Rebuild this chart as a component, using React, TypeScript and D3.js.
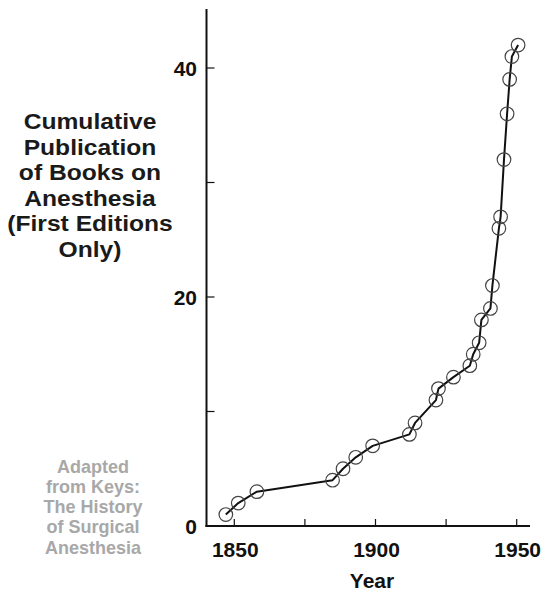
import React from "react";
import * as d3 from "d3";

const years = [1847, 1851.4, 1858, 1884.8, 1888.5, 1893, 1899, 1912, 1914, 1921.4, 1922.3, 1927.6, 1933.4, 1934.6, 1936.7, 1937.5, 1940.7, 1941.4, 1943.7, 1944.3, 1945.5, 1946.6, 1947.5, 1948.3, 1950.5];
const books = [1, 2, 3, 4, 5, 6, 7, 8, 9, 11, 12, 13, 14, 15, 16, 18, 19, 21, 26, 27, 32, 36, 39, 41, 42];

const xTicks = [1850, 1875, 1900, 1925, 1950];
const xTickLabels = [1850, 1900, 1950];
const yTicks = [0, 10, 20, 30, 40];
const yTickLabels = [0, 20, 40];

const titleLines = ["Cumulative", "Publication", "of Books on", "Anesthesia", "(First Editions", "Only)"];
const sourceLines = ["Adapted", "from Keys:", "The History", "of Surgical", "Anesthesia"];

export default function App() {
  const W = 546, H = 592;
  const x = d3.scaleLinear().domain([1850, 1950]).range([234.3, 516.7]);
  const y = d3.scaleLinear().domain([0, 40]).range([526, 68]);
  const axisX = 206.5;
  const pts = years.map((yr, i) => [x(yr), y(books[i])] as [number, number]);
  const line = d3.line()(pts) || "";
  const font = "'Liberation Sans', Arial, Helvetica, sans-serif";

  return (
    <svg width={W} height={H} style={{ position: "absolute", left: 0, top: 0, background: "#fff" }} fontFamily={font}>
      {/* axes */}
      <line x1={axisX} x2={axisX} y1={9} y2={y(0) + 1} stroke="#111" strokeWidth={2} />
      <line x1={axisX - 1} x2={530} y1={y(0)} y2={y(0)} stroke="#111" strokeWidth={2} />
      {yTicks.map((t) => (
        <line key={"yt" + t} x1={axisX} x2={axisX + 8} y1={y(t)} y2={y(t)} stroke="#111" strokeWidth={1.2} />
      ))}
      {xTicks.map((t) => (
        <line key={"xt" + t} x1={x(t)} x2={x(t)} y1={y(0)} y2={y(0) - 7} stroke="#111" strokeWidth={1.2} />
      ))}
      {yTickLabels.map((t) => (
        <text key={"yl" + t} x={197} y={y(t)} dy="0.36em" textAnchor="end" fontSize={21} fontWeight="bold" fill="#111">
          {t}
        </text>
      ))}
      {xTickLabels.map((t) => (
        <text key={"xl" + t} x={x(t) + 1} y={557} textAnchor="middle" fontSize={21} fontWeight="bold" fill="#111">
          {t}
        </text>
      ))}
      <text x={372} y={588} textAnchor="middle" fontSize={21} fontWeight="bold" fill="#111">
        Year
      </text>
      {/* title */}
      {titleLines.map((s, i) => (
        <text key={"t" + i} transform={`translate(90, ${129 + i * 25.6}) scale(1.12, 1)`} textAnchor="middle" fontSize={22} fontWeight="bold" fill="#1a1a1a">
          {s}
        </text>
      ))}
      {sourceLines.map((s, i) => (
        <text key={"s" + i} transform={`translate(93, ${472.5 + i * 20.3}) scale(1.03, 1)`} textAnchor="middle" fontSize={17.5} fontWeight="bold" fill="#a8a8a8">
          {s}
        </text>
      ))}
      {/* data */}
      <path d={line} fill="none" stroke="#111" strokeWidth={2} strokeLinejoin="round" />
      {pts.map((p, i) => (
        <circle key={"c" + i} cx={p[0]} cy={p[1]} r={6.8} fill="none" stroke="#444" strokeWidth={1.2} />
      ))}
    </svg>
  );
}
